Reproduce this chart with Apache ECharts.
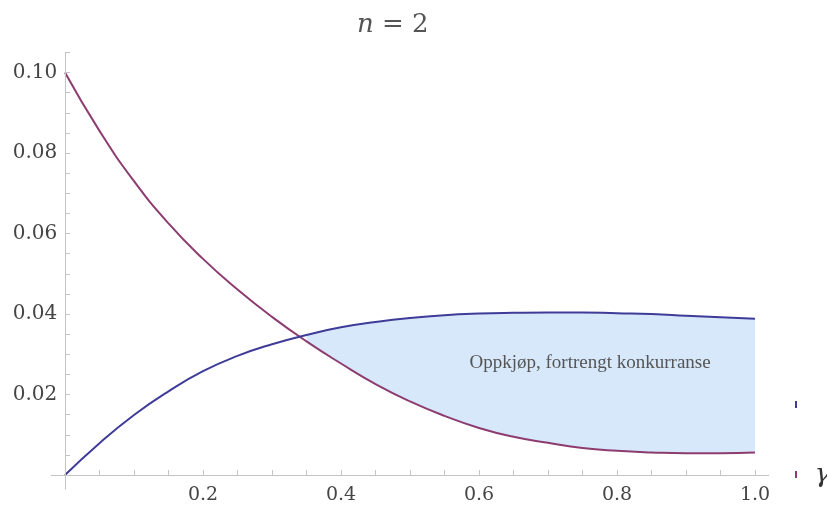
<!DOCTYPE html>
<html>
<head>
<meta charset="utf-8">
<script src="https://cdn.jsdelivr.net/npm/echarts@6/dist/echarts.min.js"></script>
<style>
  html, body { margin: 0; padding: 0; background: #fff; }
  #chart { width: 827px; height: 509px; }
</style>
</head>
<body>
<div id="chart"></div>
<script>
// gamma values (x) and the two curves
const gamma = [0, 0.05, 0.1, 0.15, 0.2, 0.25, 0.3, 0.35, 0.4, 0.45, 0.5,
               0.55, 0.6, 0.65, 0.7, 0.75, 0.8, 0.85, 0.9, 0.95, 1.0];
const redValues = [0.1000, 0.0855, 0.0730, 0.0625, 0.0537, 0.0461, 0.0393, 0.0332, 0.0277, 0.0226, 0.0183,
                   0.0147, 0.0117, 0.0095, 0.0080, 0.0067, 0.0060, 0.0056, 0.0054, 0.0054, 0.0056];
const blueValues = [0, 0.0079, 0.0149, 0.0208, 0.0258, 0.0296, 0.0325, 0.0348, 0.0367, 0.0380, 0.0390,
                    0.0397, 0.0401, 0.0403, 0.0404, 0.0404, 0.0402, 0.0400, 0.0396, 0.0392, 0.0388];
// shaded area starts here (index in gamma)
const fillStart = 7;

const xTickLabels = [0.2, 0.4, 0.6, 0.8, 1.0];
const yTickLabels = [0.02, 0.04, 0.06, 0.08, 0.10];
const annotationText = "Oppkjøp, fortrengt konkurranse";
const titleText = "{n|n} = 2";

// small ticks
const xTicks = [];
for (let i = 1; i <= 20; i++) xTicks.push(+(i * 0.05).toFixed(2));
const yTicks = [];
for (let i = 0; i <= 21; i++) yTicks.push(+(i * 0.005).toFixed(3));

const pairs = (xs, ys) => xs.map((x, i) => [x, ys[i]]);

const red = "#8d3c70";
const blue = "#3e3c98";
const axisGrey = "#c4c4c4";

const myChart = echarts.init(document.getElementById("chart"));
const option = {
  animation: false,
  title: {
    text: titleText,
    left: 352,
    top: 7,
    textStyle: {
      fontFamily: "DejaVu Serif",
      fontSize: 26,
      fontWeight: "normal",
      color: "#555",
      rich: {
        n: { fontFamily: "DejaVu Serif", fontStyle: "italic", fontSize: 26, color: "#555" },
      },
    },
  },
  legend: [
    {
      left: 795, top: 401, padding: 0, icon: "rect", itemWidth: 2, itemHeight: 7,
      data: ["blå kurve"], formatter: () => "", selectedMode: false,
    },
    {
      left: 795, top: 471, padding: 0, icon: "rect", itemWidth: 2, itemHeight: 7,
      data: ["rød kurve"], formatter: () => "", selectedMode: false,
    },
  ],
  grid: {
    left: 51.2,
    right: 58.2,
    top: 52.4,
    bottom: 19.9,
    outerBoundsMode: "none",
  },
  xAxis: {
    type: "value",
    min: -0.02,
    max: 1.02,
    z: 10,
    name: "γ",
    nameLocation: "end",
    nameGap: 46,
    nameTextStyle: {
      fontFamily: "DejaVu Serif",
      fontStyle: "italic",
      fontSize: 26,
      color: "#333",
      verticalAlign: "middle",
      padding: [8, 0, 0, 0],
    },
    axisLine: { onZero: true, lineStyle: { color: axisGrey, width: 1 } },
    axisTick: {
      show: true, inside: true, length: 5,
      customValues: xTicks,
      lineStyle: { color: axisGrey },
    },
    axisLabel: {
      customValues: xTickLabels,
      formatter: (v) => v.toFixed(1),
      fontFamily: "DejaVu Serif",
      fontSize: 19,
      color: "#444",
      margin: -4,
    },
    splitLine: { show: false },
  },
  yAxis: {
    type: "value",
    min: -0.0035,
    max: 0.105,
    z: 10,
    axisLine: { show: true, onZero: true, lineStyle: { color: axisGrey, width: 1 } },
    axisTick: {
      show: true, inside: true, length: 5,
      customValues: yTicks,
      lineStyle: { color: axisGrey },
    },
    axisLabel: {
      customValues: yTickLabels,
      formatter: (v) => v.toFixed(2),
      fontFamily: "DejaVu Serif",
      fontSize: 20,
      color: "#444",
      margin: -6,
    },
    splitLine: { show: false },
  },
  series: [
    {
      // light blue from the upper curve down to zero
      name: "fyll",
      type: "line",
      data: pairs(gamma.slice(fillStart), blueValues.slice(fillStart)),
      smooth: 0.5,
      symbol: "none",
      lineStyle: { opacity: 0 },
      areaStyle: { color: "#d7e8fa", opacity: 1 },
      silent: true,
      z: 1,
      markPoint: {
        symbol: "circle",
        symbolSize: 0,
        silent: true,
        label: {
          show: true,
          formatter: annotationText,
          fontFamily: "Liberation Serif",
          fontSize: 19,
          color: "#555",
        },
        data: [{ coord: [0.761, 0.0278] }],
      },
    },
    {
      // white under the lower curve, leaves the band between the curves
      name: "fyll-under",
      type: "line",
      data: pairs(gamma.slice(fillStart - 1), redValues.slice(fillStart - 1)),
      smooth: 0.5,
      symbol: "none",
      lineStyle: { opacity: 0 },
      areaStyle: { color: "#ffffff", opacity: 1 },
      silent: true,
      z: 2,
    },
    {
      name: "rød kurve",
      type: "line",
      data: pairs(gamma, redValues),
      smooth: 0.5,
      symbol: "none",
      color: red,
      lineStyle: { color: red, width: 2 },
      z: 3,
    },
    {
      name: "blå kurve",
      type: "line",
      data: pairs(gamma, blueValues),
      smooth: 0.5,
      symbol: "none",
      color: blue,
      lineStyle: { color: blue, width: 2 },
      z: 3,
    },
  ],
};
myChart.setOption(option);
window.addEventListener("resize", () => {
  myChart.resize();
});
</script>
</body>
</html>
